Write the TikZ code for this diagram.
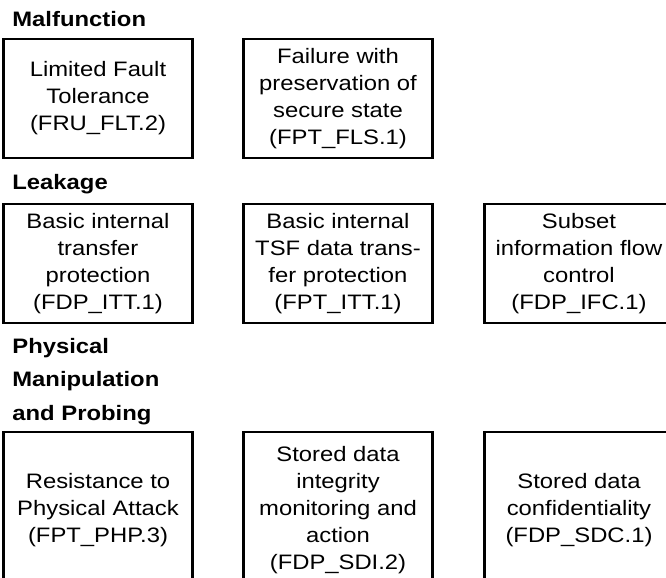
\documentclass[tikz,border=0pt]{standalone}
\usepackage{fontspec}
\setmainfont{Liberation Sans}[FakeStretch=1.14]
\begin{document}
\begin{tikzpicture}[x=0.5pt,y=-0.5pt,
	fbox/.style={draw, line width=1.4pt, minimum width=94.5pt, minimum height=59.5pt, align=center, inner sep=0pt, font=\fontsize{10.45}{13.5}\selectfont},
	tallbox/.style={fbox, minimum height=78pt},
	heading/.style={anchor=base west, inner sep=0pt, align=left, font=\bfseries\fontsize{10.45}{17}\selectfont}]
	\useasboundingbox (0,0) rectangle (666,578);
	\clip (0,0) rectangle (666,578);
	% Malfunction
	\draw (12,26) node[heading] (HM) {Malfunction};
	\draw (98,98.5) node[fbox] (FLT) {Limited Fault\\Tolerance\\(FRU\_FLT.2)};
	\draw (338,98.5) node[fbox] (FLS) {Failure with\\preservation of\\secure state\\(FPT\_FLS.1)};
	% Leakage
	\draw (12,190) node[heading] (HL) {Leakage};
	\draw (98,263.5) node[fbox] (ITT) {Basic internal\\transfer\\protection\\(FDP\_ITT.1)};
	\draw (338,263.5) node[fbox] (PITT) {Basic internal\\TSF data trans-\\fer protection\\(FPT\_ITT.1)};
	\draw (579,263.5) node[fbox] (IFC) {Subset\\information flow\\control\\(FDP\_IFC.1)};
	% Physical Manipulation and Probing (base = last line)
	\draw (12,421) node[heading] (HP) {Physical\\Manipulation\\and Probing};
	\draw (98,510) node[tallbox] (PHP) {Resistance to\\Physical Attack\\(FPT\_PHP.3)};
	\draw (338,510) node[tallbox] (SDI) {Stored data\\integrity\\monitoring and\\action\\(FDP\_SDI.2)};
	\draw (579,510) node[tallbox] (SDC) {Stored data\\confidentiality\\(FDP\_SDC.1)};
\end{tikzpicture}
\end{document}
